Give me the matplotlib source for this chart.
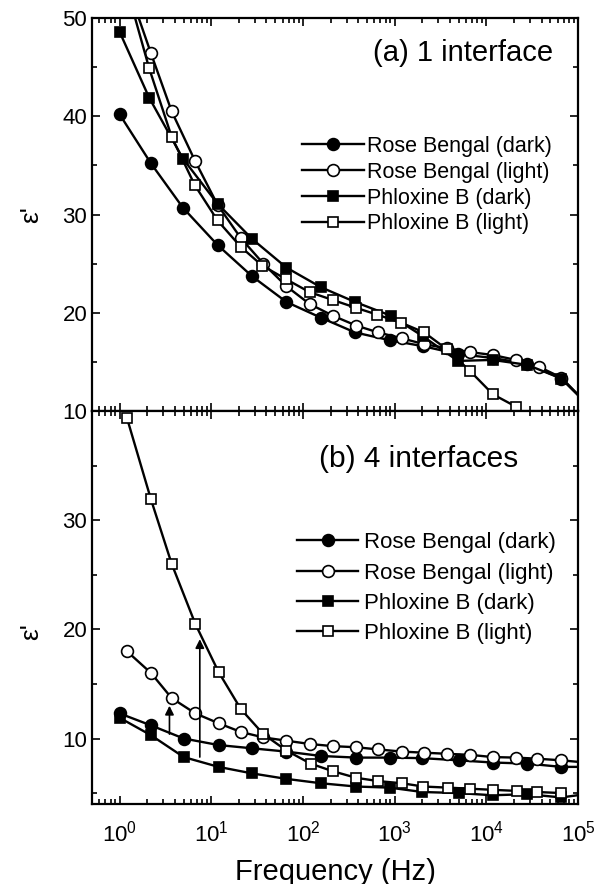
import matplotlib
matplotlib.use("Agg")
import matplotlib.pyplot as plt
from matplotlib.ticker import MultipleLocator, LogLocator, NullFormatter

plt.rcParams['font.family'] = ['Liberation Sans', 'DejaVu Sans']
plt.rcParams['mathtext.fontset'] = 'custom'
plt.rcParams['mathtext.rm'] = 'Liberation Sans'

labels = ["Rose Bengal (dark)", "Rose Bengal (light)", "Phloxine B (dark)", "Phloxine B (light)"]

# (a) 1 interface
a_rb_dark_f = [1.0, 2.2, 4.9, 11.7, 28, 66, 157, 370, 890, 2040, 4900, 11700, 28000, 66000, 120000]
a_rb_dark_y = [40.2, 35.2, 30.7, 26.9, 23.7, 21.1, 19.5, 18.0, 17.2, 16.6, 15.8, 15.4, 14.8, 13.3, 10.9]
a_rb_light_f = [1.2, 2.2, 3.7, 6.7, 11.7, 21, 37, 66, 118, 212, 380, 660, 1200, 2100, 3700, 6600,
                11800, 21000, 37500, 66000, 120000]
a_rb_light_y = [53.5, 46.4, 40.5, 35.4, 31.0, 27.6, 25.0, 22.7, 20.9, 19.7, 18.7, 18.0, 17.4, 16.8, 16.4, 16.0,
                15.7, 15.2, 14.5, 13.4, 10.9]
a_pb_dark_f = [1.0, 2.1, 4.9, 11.7, 28, 66, 157, 370, 910, 2040, 4900, 11700, 28000, 66000, 120000]
a_pb_dark_y = [48.6, 41.9, 35.7, 31.1, 27.5, 24.6, 22.6, 21.1, 19.7, 17.6, 15.1, 15.2, 14.7, 13.3, 10.9]
a_pb_light_f = [1.2, 2.1, 3.7, 6.6, 11.7, 21, 36, 66, 118, 212, 380, 650, 1170, 2100, 3700, 6600, 11800, 21000]
a_pb_light_y = [53.0, 44.9, 37.9, 33.0, 29.4, 26.7, 24.8, 23.4, 22.1, 21.3, 20.5, 19.8, 19.0, 18.0, 16.3, 14.1,
                11.7, 10.45]

# (b) 4 interfaces
b_rb_dark_f = [1.0, 2.2, 5.0, 12, 28, 66, 157, 380, 880, 2000, 5000, 11700, 28000, 66000, 120000]
b_rb_dark_y = [12.3, 11.2, 10.0, 9.4, 9.1, 8.8, 8.4, 8.25, 8.25, 8.2, 8.0, 7.8, 7.7, 7.4, 7.4]
b_rb_light_f = [1.2, 2.2, 3.7, 6.7, 12, 21, 37, 66, 118, 212, 380, 660, 1200, 2100, 3700, 6700,
                11700, 21000, 36000, 66000, 120000]
b_rb_light_y = [18.0, 16.0, 13.7, 12.3, 11.4, 10.6, 10.1, 9.8, 9.5, 9.3, 9.2, 9.0, 8.8, 8.7, 8.6, 8.5,
                8.3, 8.25, 8.15, 8.0, 7.8]
b_pb_dark_f = [1.0, 2.2, 5.0, 12, 28, 66, 157, 380, 880, 2000, 5000, 11700, 28000, 66000, 120000]
b_pb_dark_y = [11.9, 10.3, 8.3, 7.4, 6.8, 6.3, 5.9, 5.6, 5.5, 5.1, 5.0, 4.8, 4.9, 4.6, 4.9]
b_pb_light_f = [1.2, 2.2, 3.7, 6.7, 12, 21, 37, 66, 121, 212, 380, 660, 1200, 2050, 3800, 6600,
                11700, 21500, 36000, 66000]
b_pb_light_y = [39.4, 31.9, 26.0, 20.5, 16.1, 12.7, 10.4, 8.9, 7.7, 7.0, 6.4, 6.1, 5.9, 5.6, 5.5, 5.4,
                5.3, 5.2, 5.1, 5.0]

# arrows in (b): frequency, start, end
arrow_f = [3.5, 7.5]
arrow_y0 = [10.4, 8.3]
arrow_y1 = [13.0, 19.1]

styles = [dict(marker='o', mfc='k', ms=8.5),
          dict(marker='o', mfc='white', ms=8.5),
          dict(marker='s', mfc='k', ms=7.5),
          dict(marker='s', mfc='white', ms=7.5)]

fig, (ax1, ax2) = plt.subplots(2, 1, sharex=True, figsize=(5.95, 8.84), dpi=100)
fig.subplots_adjust(left=0.1546, right=0.9714, top=0.9796, bottom=0.0905, hspace=0)

series_a = [(a_rb_dark_f, a_rb_dark_y), (a_rb_light_f, a_rb_light_y),
            (a_pb_dark_f, a_pb_dark_y), (a_pb_light_f, a_pb_light_y)]
series_b = [(b_rb_dark_f, b_rb_dark_y), (b_rb_light_f, b_rb_light_y),
            (b_pb_dark_f, b_pb_dark_y), (b_pb_light_f, b_pb_light_y)]

for ax, series in [(ax1, series_a), (ax2, series_b)]:
    for (f, y), st, lab in zip(series, styles, labels):
        ax.plot(f, y, color='k', lw=1.7, mec='k', mew=1.2, label=lab, **st)

for f, y0, y1 in zip(arrow_f, arrow_y0, arrow_y1):
    ax2.annotate('', xy=(f, y1), xytext=(f, y0),
                 arrowprops=dict(arrowstyle='-|>', color='k', lw=1.2, mutation_scale=13,
                                 shrinkA=0, shrinkB=0))

ax1.set_xscale('log')
ax1.set_xlim(0.5, 1e5)
ax1.set_ylim(10, 50)
ax1.set_yticks([10, 20, 30, 40, 50])
ax2.set_ylim(4, 40)
ax2.set_yticks([10, 20, 30, 40])
ax2.set_yticklabels(['10', '20', '30', ''])

for ax in (ax1, ax2):
    ax.yaxis.set_minor_locator(MultipleLocator(5))
    ax.xaxis.set_major_locator(LogLocator(base=10, numticks=10))
    ax.xaxis.set_minor_locator(LogLocator(base=10, subs=range(2, 10), numticks=20))
    ax.xaxis.set_minor_formatter(NullFormatter())
    ax.tick_params(which='both', direction='in', top=True, right=True, labelsize=16, width=1.2)
    ax.tick_params(which='major', length=6)
    ax.tick_params(which='minor', length=3.5)
    ax.tick_params(axis='x', pad=12)
    for sp in ax.spines.values():
        sp.set_linewidth(1.6)
    ax.set_ylabel("ε'", fontsize=19)

ax1.yaxis.set_label_coords(-0.10, 0.50)
ax2.yaxis.set_label_coords(-0.10, 0.44)

ax1.text(0.763, 0.911, "(a) 1 interface", transform=ax1.transAxes, fontsize=21,
         ha='center', va='center')
ax2.text(0.673, 0.878, "(b) 4 interfaces", transform=ax2.transAxes, fontsize=21.5,
         ha='center', va='center')

ax1.legend(loc='center left', bbox_to_anchor=(0.432, 0.575), frameon=False, fontsize=15.5,
           handlelength=2.9, handletextpad=0.1, labelspacing=0.23, borderpad=0, borderaxespad=0)
ax2.legend(loc='center left', bbox_to_anchor=(0.422, 0.549), frameon=False, fontsize=16,
           handlelength=2.75, handletextpad=0.25, labelspacing=0.42, borderpad=0, borderaxespad=0)

ax2.set_xlabel("Frequency (Hz)", fontsize=21, labelpad=8)

fig.savefig("out.png", dpi=100)
